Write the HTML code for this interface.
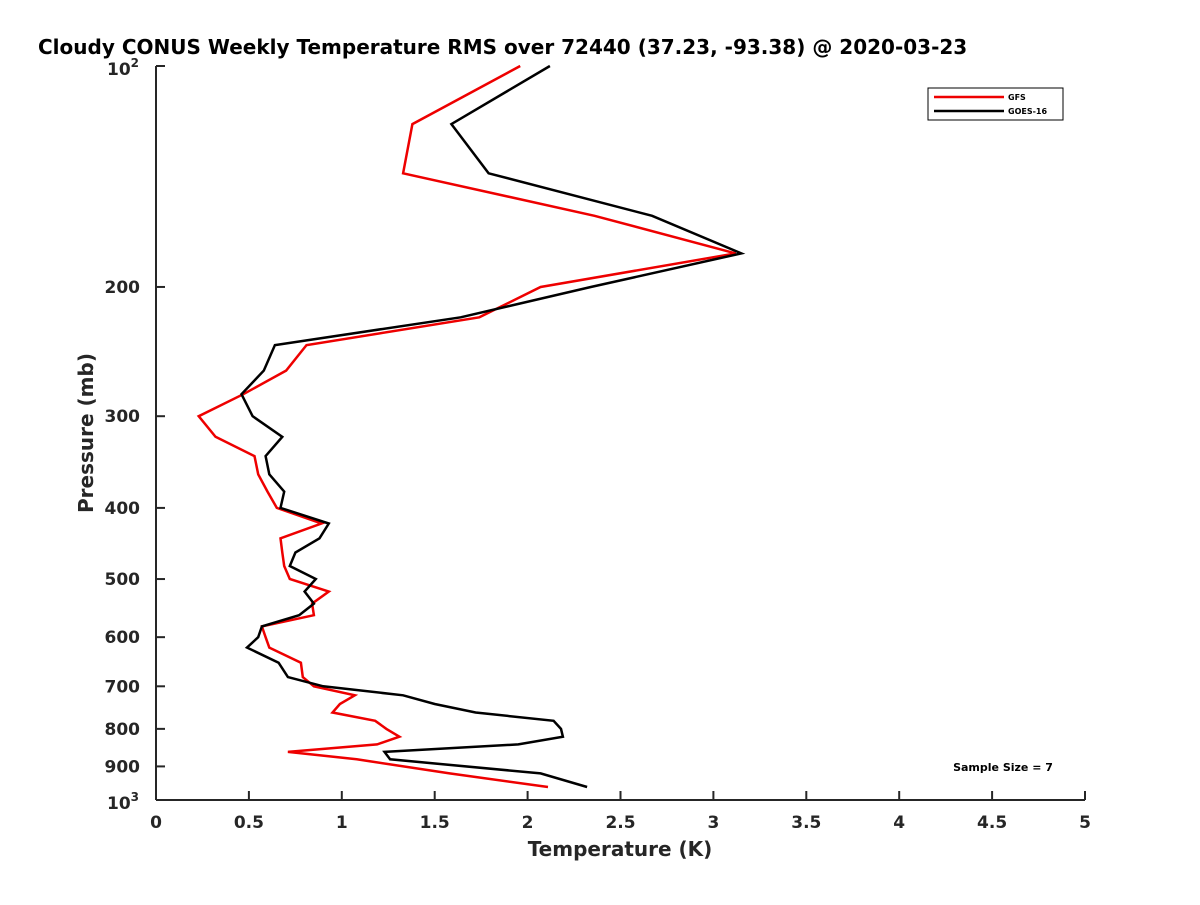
<!DOCTYPE html>
<html><head><meta charset="utf-8"><style>
body{margin:0;background:#fff;overflow:hidden;}
svg text{font-family:"DejaVu Sans","Liberation Sans",sans-serif;font-weight:bold;fill:#262626;}
</style></head><body>
<svg width="1200" height="900" id="c">
<rect width="1200" height="900" fill="#fff"/>
<text x="38" y="54" font-size="20" style="fill:#000">Cloudy CONUS Weekly Temperature RMS over 72440 (37.23, -93.38) @ 2020-03-23</text>
<g id="axes"></g>
<g id="series"></g>
<text transform="translate(93,433) rotate(-90)" text-anchor="middle" font-size="20">Pressure (mb)</text>
<text x="620" y="856" text-anchor="middle" font-size="20">Temperature (K)</text>
<g>
<rect x="928" y="88" width="135" height="32" fill="#fff" stroke="#000" stroke-width="1"/>
<line x1="934" y1="97" x2="1004" y2="97" stroke="#e00" stroke-width="2.5"/>
<text x="1008" y="100" font-size="8" style="fill:#000">GFS</text>
<line x1="934" y1="111" x2="1004" y2="111" stroke="#000" stroke-width="2.5"/>
<text x="1008" y="114" font-size="8" style="fill:#000">GOES-16</text>
</g>
<text x="1003" y="771" text-anchor="middle" font-size="11" style="fill:#000">Sample Size = 7</text>
</svg>
<script>
const pressures=[100,120,140,160,180,200,220,240,260,280,300,320,340,360,380,400,420,440,460,480,500,520,540,560,580,600,620,650,680,700,720,740,760,780,800,820,840,860,880,920,960];
const gfsTemps=[1.96,1.38,1.33,2.36,3.12,2.07,1.74,0.81,0.70,0.47,0.23,0.32,0.53,0.55,0.60,0.65,0.89,0.67,0.68,0.69,0.72,0.93,0.84,0.85,0.57,0.59,0.61,0.78,0.79,0.85,1.07,0.99,0.95,1.18,1.24,1.31,1.19,0.71,1.08,1.58,2.11];
const goesTemps=[2.12,1.59,1.79,2.67,3.15,2.34,1.64,0.64,0.58,0.46,0.52,0.68,0.59,0.61,0.69,0.67,0.93,0.88,0.75,0.72,0.86,0.80,0.85,0.77,0.57,0.55,0.49,0.66,0.71,0.90,1.33,1.50,1.72,2.14,2.18,2.19,1.95,1.23,1.26,2.07,2.32];
const xTicks=[0,0.5,1,1.5,2,2.5,3,3.5,4,4.5,5];
const yTicks=[200,300,400,500,600,700,800,900];
const NS="http://www.w3.org/2000/svg";
const X0=156,X1=1085,Y0=66,Y1=800;
const xs=t=>X0+(t/5)*(X1-X0);
const ys=p=>Y0+Math.log10(p/100)*(Y1-Y0);
function mk(tag,attrs,parent,txt){const e=document.createElementNS(NS,tag);for(const k in attrs)e.setAttribute(k,attrs[k]);if(txt!==undefined)e.textContent=txt;parent.appendChild(e);return e;}
const ax=document.getElementById('axes');
let e=mk('line',{x1:X0,y1:Y0,x2:X0,y2:Y1,stroke:'#262626','stroke-width':2},ax);


e=mk('line',{x1:X0,y1:Y1,x2:X1,y2:Y1,stroke:'#262626','stroke-width':2},ax);


xTicks.forEach(t=>{const x=xs(t);mk('line',{x1:x,y1:Y1,x2:x,y2:Y1-9,stroke:'#262626','stroke-width':2},ax);
const l=mk('text',{x:x,y:828,'text-anchor':'middle','font-size':17},ax,String(t));

});
[100,1000].concat(yTicks).forEach(p=>{const y=ys(p);mk('line',{x1:X0,y1:y,x2:X0+9,y2:y,stroke:'#262626','stroke-width':2},ax);});
yTicks.forEach(p=>{const l=mk('text',{x:140,y:ys(p)+6,'text-anchor':'end','font-size':17},ax,String(p));

});
[[100,'2'],[1000,'3']].forEach(([p,s])=>{const l=mk('text',{x:107,y:ys(p)+9,'font-size':17},ax,'10');


mk('tspan',{dy:-8,'font-size':12},l,s);});
const sg=document.getElementById('series');
function line(vals,color,name){const d=vals.map((t,i)=>(i?'L':'M')+xs(t).toFixed(1)+','+ys(pressures[i]).toFixed(1)).join('');
const p=mk('path',{d:d,fill:'none',stroke:color,'stroke-width':2.5,'stroke-linejoin':'miter'},sg);

}
line(gfsTemps,'#e00','gfs-line');
line(goesTemps,'#000','goes16-line');
</script>
</body></html>
